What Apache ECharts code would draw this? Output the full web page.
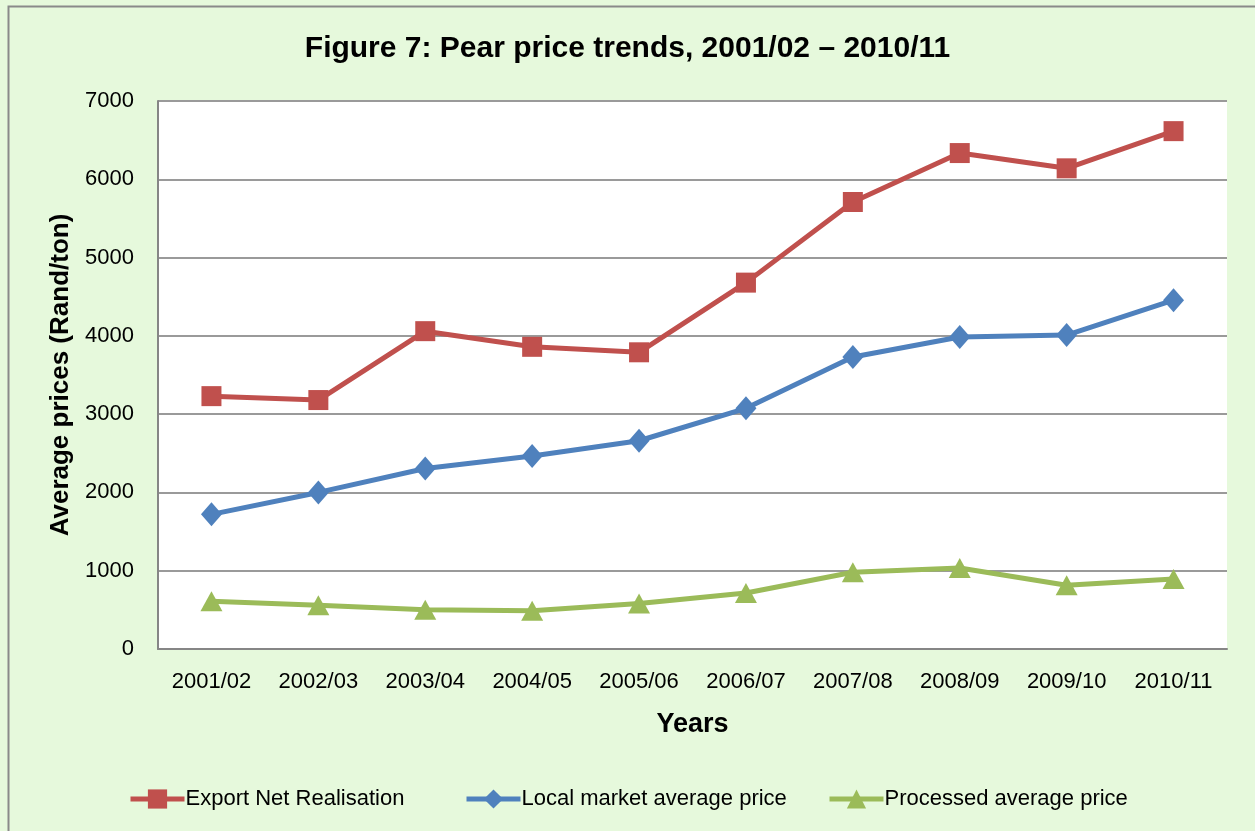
<!DOCTYPE html>
<html><head><meta charset="utf-8">
<script src="https://cdn.jsdelivr.net/npm/echarts@6/dist/echarts.min.js"></script>
<style>html,body{margin:0;padding:0;background:#fff}#c{width:1255px;height:831px}</style>
</head><body><div id="c"></div>
<script>
const categories = ['2001/02','2002/03','2003/04','2004/05','2005/06','2006/07','2007/08','2008/09','2009/10','2010/11'];
const exportNet = [3230, 3180, 4060, 3860, 3790, 4680, 5710, 6335, 6140, 6615];
const localMarket = [1720, 2000, 2305, 2465, 2660, 3075, 3730, 3985, 4010, 4455];
const processed = [610, 560, 500, 490, 580, 715, 980, 1035, 815, 895];
const yTicks = [0, 1000, 2000, 3000, 4000, 5000, 6000, 7000];

const FONT = '"Liberation Sans", Arial, sans-serif';
const chart = echarts.init(document.getElementById('c'), null, {renderer: 'canvas'});
const legendBase = {
  top: 783, itemWidth: 54, itemHeight: 24, itemGap: 0,
  textStyle: {fontFamily: FONT, fontSize: 22, color: '#000', padding: [0,0,0,-4]},
  lineStyle: {width: 5},
  orient: 'horizontal'
};
chart.setOption({
  backgroundColor: '#E6F9DC',
  animation: false,
  graphic: [{
    type: 'rect', left: 6, top: 4, shape: {width: 1270, height: 850},
    style: {fill: 'none', stroke: '#8a8a8a', lineWidth: 2}
  }],
  title: {
    text: 'Figure 7: Pear price trends, 2001/02 – 2010/11',
    left: 'center', top: 29,
    textStyle: {fontFamily: FONT, fontWeight: 'bold', fontSize: 30, color: '#000'}
  },
  legend: [
    Object.assign({}, legendBase, {left: 123, data: ['Export Net Realisation']}),
    Object.assign({}, legendBase, {left: 459, data: ['Local market average price']}),
    Object.assign({}, legendBase, {left: 822, data: ['Processed average price']})
  ],
  grid: {left: 158, right: 28, top: 101, bottom: 182, backgroundColor: '#fff', show: true, borderWidth: 0},
  xAxis: {
    type: 'category', data: categories, boundaryGap: true,
    name: 'Years', nameLocation: 'middle', nameGap: 62,
    nameTextStyle: {fontFamily: FONT, fontWeight: 'bold', fontSize: 27, color: '#000'},
    axisLine: {lineStyle: {color: '#868686', width: 2}},
    axisTick: {show: false},
    axisLabel: {fontFamily: FONT, fontSize: 22, color: '#000', margin: 22, interval: 0}
  },
  yAxis: {
    type: 'value', min: yTicks[0], max: yTicks[yTicks.length-1], interval: 1000,
    name: 'Average prices (Rand/ton)', nameLocation: 'middle', nameGap: 69,
    nameTextStyle: {fontFamily: FONT, fontWeight: 'bold', fontSize: 26, color: '#000'},
    axisLine: {show: true, lineStyle: {color: '#868686', width: 2}},
    axisTick: {show: false},
    axisLabel: {fontFamily: FONT, fontSize: 22, color: '#000', margin: 24, formatter: v => String(v)},
    splitLine: {lineStyle: {color: '#9a9a9a', width: 2}}
  },
  series: [
    {name: 'Export Net Realisation', type: 'line', data: exportNet,
     symbol: 'rect', symbolSize: 20, color: '#C0504D',
     lineStyle: {width: 5, color: '#C0504D'}, itemStyle: {color: '#C0504D'}},
    {name: 'Local market average price', type: 'line', data: localMarket,
     symbol: 'diamond', symbolSize: [21, 24], color: '#4F81BD',
     lineStyle: {width: 5, color: '#4F81BD'}, itemStyle: {color: '#4F81BD'}},
    {name: 'Processed average price', type: 'line', data: processed,
     symbol: 'triangle', symbolSize: [22, 20], color: '#9BBB59',
     lineStyle: {width: 5, color: '#9BBB59'}, itemStyle: {color: '#9BBB59'}}
  ]
});
</script></body></html>
